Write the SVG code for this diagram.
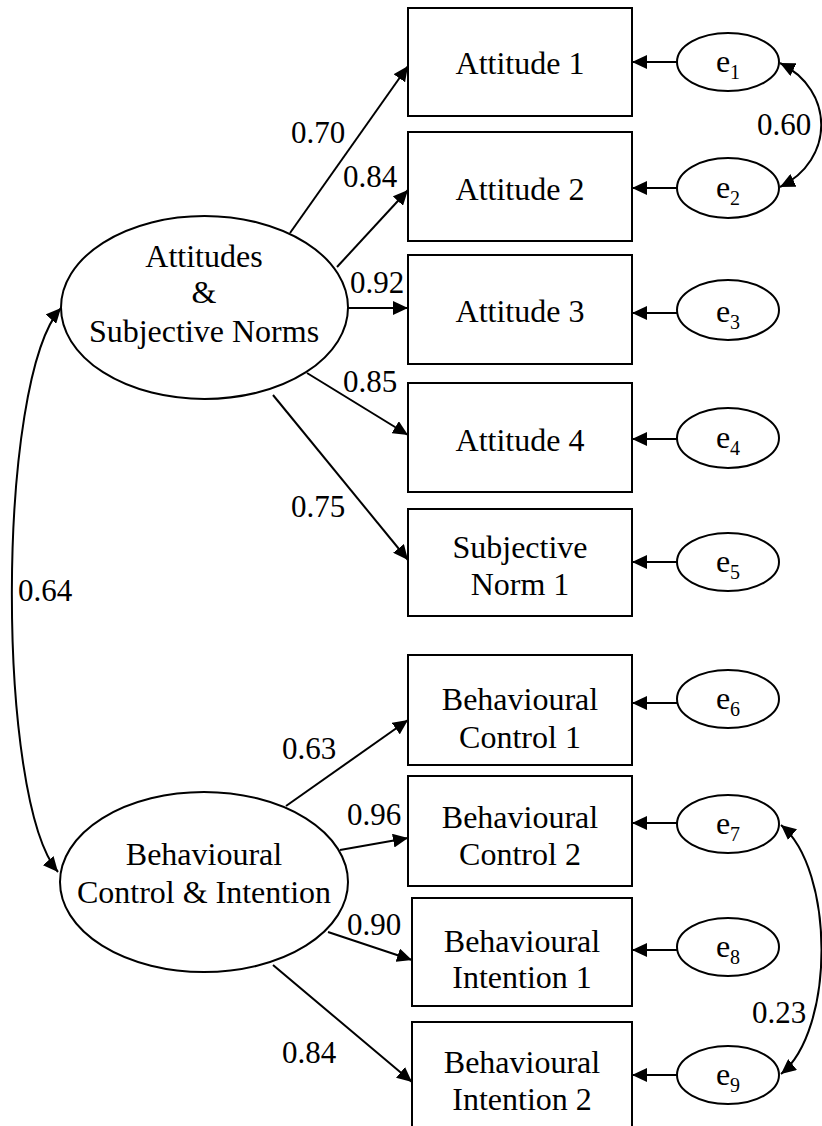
<svg xmlns="http://www.w3.org/2000/svg" width="822" height="1126" viewBox="0 0 822 1126">
<style>
text{font-family:"Liberation Serif","DejaVu Serif",serif;font-size:32px;fill:#000;text-anchor:middle}
.lbl{text-anchor:start;font-size:31px}
.sub{font-size:20px}
rect,ellipse{fill:#fff;stroke:#000;stroke-width:2}
.c{fill:none;stroke:#000;stroke-width:2}
</style>
<defs>
<marker id="ah" markerUnits="userSpaceOnUse" markerWidth="16" markerHeight="14" refX="15" refY="7" orient="auto-start-reverse">
<path d="M0,0 L15,7 L0,14 z" fill="#000"/>
</marker>
</defs>
<g id="connectors">
<line class="c" x1="290" y1="233" x2="408" y2="66" marker-end="url(#ah)"/>
<line class="c" x1="337" y1="267" x2="408" y2="190" marker-end="url(#ah)"/>
<line class="c" x1="348" y1="308" x2="408" y2="308" marker-end="url(#ah)"/>
<line class="c" x1="307" y1="373" x2="408" y2="435" marker-end="url(#ah)"/>
<line class="c" x1="273" y1="395" x2="408" y2="560" marker-end="url(#ah)"/>
<line class="c" x1="286" y1="806" x2="408" y2="720" marker-end="url(#ah)"/>
<line class="c" x1="340" y1="850" x2="408" y2="838" marker-end="url(#ah)"/>
<line class="c" x1="328" y1="932" x2="412" y2="960" marker-end="url(#ah)"/>
<line class="c" x1="273" y1="965" x2="412" y2="1082" marker-end="url(#ah)"/>
<line class="c" x1="677" y1="62" x2="632" y2="62" marker-end="url(#ah)"/>
<line class="c" x1="677" y1="188" x2="632" y2="188" marker-end="url(#ah)"/>
<line class="c" x1="677" y1="313" x2="632" y2="313" marker-end="url(#ah)"/>
<line class="c" x1="677" y1="439" x2="632" y2="439" marker-end="url(#ah)"/>
<line class="c" x1="677" y1="562" x2="632" y2="562" marker-end="url(#ah)"/>
<line class="c" x1="677" y1="703" x2="632" y2="703" marker-end="url(#ah)"/>
<line class="c" x1="677" y1="823" x2="632" y2="823" marker-end="url(#ah)"/>
<line class="c" x1="677" y1="950" x2="632" y2="950" marker-end="url(#ah)"/>
<line class="c" x1="677" y1="1075" x2="632" y2="1075" marker-end="url(#ah)"/>
<path class="c" d="M780 63 C835 90 835 160 780 187" marker-start="url(#ah)" marker-end="url(#ah)"/>
<path class="c" d="M781 825 C835 870 835 1030 781 1074" marker-start="url(#ah)" marker-end="url(#ah)"/>
<path class="c" d="M61 308 C-4 380 -4 800 58 872" marker-start="url(#ah)" marker-end="url(#ah)"/>
</g>
<g id="labels">
<text class="lbl" x="291" y="143">0.70</text>
<text class="lbl" x="343" y="187">0.84</text>
<text class="lbl" x="350" y="293">0.92</text>
<text class="lbl" x="343" y="392">0.85</text>
<text class="lbl" x="291" y="517">0.75</text>
<text class="lbl" x="18" y="601">0.64</text>
<text class="lbl" x="757" y="135">0.60</text>
<text class="lbl" x="282" y="759">0.63</text>
<text class="lbl" x="347" y="825">0.96</text>
<text class="lbl" x="347" y="935">0.90</text>
<text class="lbl" x="282" y="1063">0.84</text>
<text class="lbl" x="752" y="1023">0.23</text>
</g>
<g id="latent1"><ellipse cx="204.5" cy="307.5" rx="143.5" ry="91.5"/><text x="204" y="267">Attitudes</text><text x="204" y="303">&amp;</text><text x="204" y="342">Subjective Norms</text></g>
<g id="latent2"><ellipse cx="204" cy="882" rx="144" ry="90"/><text x="204" y="865">Behavioural</text><text x="204" y="903">Control &amp; Intention</text></g>
<g id="att1"><rect x="408" y="8" width="224" height="108"/><text x="520" y="74">Attitude 1</text></g>
<g id="att2"><rect x="408" y="132" width="224" height="109"/><text x="520" y="200">Attitude 2</text></g>
<g id="att3"><rect x="408" y="255" width="224" height="109"/><text x="520" y="322">Attitude 3</text></g>
<g id="att4"><rect x="408" y="383" width="224" height="109"/><text x="520" y="451">Attitude 4</text></g>
<g id="sn1"><rect x="408" y="509" width="224" height="107"/><text x="520" y="558">Subjective</text><text x="520" y="595">Norm 1</text></g>
<g id="bc1"><rect x="408" y="655" width="224" height="110"/><text x="520" y="710">Behavioural</text><text x="520" y="748">Control 1</text></g>
<g id="bc2"><rect x="408" y="776" width="224" height="110"/><text x="520" y="828">Behavioural</text><text x="520" y="865">Control 2</text></g>
<g id="bi1"><rect x="412" y="898" width="220" height="108"/><text x="522" y="952">Behavioural</text><text x="522" y="988">Intention 1</text></g>
<g id="bi2"><rect x="412" y="1022" width="220" height="120"/><text x="522" y="1073">Behavioural</text><text x="522" y="1110">Intention 2</text></g>
<g id="e1"><ellipse cx="728" cy="62" rx="51" ry="29"/><text x="728" y="72">e<tspan class="sub" dy="7">1</tspan></text></g>
<g id="e2"><ellipse cx="728" cy="188" rx="51" ry="30"/><text x="728" y="198">e<tspan class="sub" dy="7">2</tspan></text></g>
<g id="e3"><ellipse cx="728" cy="310" rx="51" ry="30"/><text x="728" y="322">e<tspan class="sub" dy="7">3</tspan></text></g>
<g id="e4"><ellipse cx="728" cy="438" rx="51" ry="30"/><text x="728" y="448">e<tspan class="sub" dy="7">4</tspan></text></g>
<g id="e5"><ellipse cx="728" cy="562" rx="51" ry="29"/><text x="728" y="572">e<tspan class="sub" dy="7">5</tspan></text></g>
<g id="e6"><ellipse cx="728" cy="699" rx="51" ry="29"/><text x="728" y="709">e<tspan class="sub" dy="7">6</tspan></text></g>
<g id="e7"><ellipse cx="728" cy="824" rx="51" ry="29"/><text x="728" y="834">e<tspan class="sub" dy="7">7</tspan></text></g>
<g id="e8"><ellipse cx="728" cy="947" rx="51" ry="29"/><text x="728" y="957">e<tspan class="sub" dy="7">8</tspan></text></g>
<g id="e9"><ellipse cx="728" cy="1075" rx="51" ry="29"/><text x="728" y="1085">e<tspan class="sub" dy="7">9</tspan></text></g>
</svg>
